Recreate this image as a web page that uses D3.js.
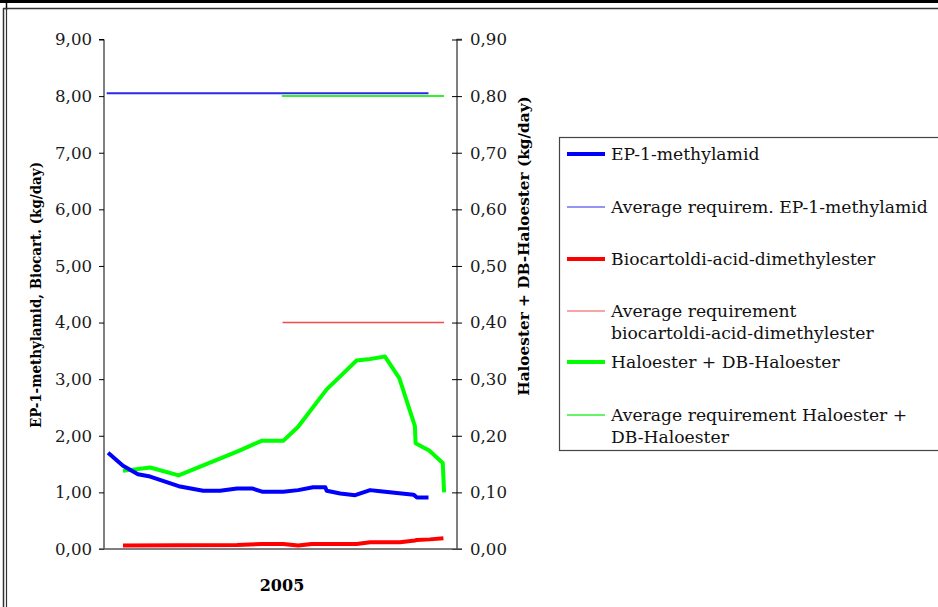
<!DOCTYPE html>
<html><head><meta charset="utf-8">
<script src="https://cdn.jsdelivr.net/npm/d3@7"></script>
<style>body{margin:0;background:#fff}svg{display:block}</style>
</head><body>
<script>
// ---- data (x = week of year 2005) ----
const categoryLabel = "2005";
const leftTicks = [0,1,2,3,4,5,6,7,8,9];
const rightTicks = [0,0.1,0.2,0.3,0.4,0.5,0.6,0.7,0.8,0.9];

const epWeeks  = [0.6,2.8,5.0,6.8,11.0,14.6,17.1,19.6,21.8,23.4,26.4,28.6,30.8,32.6,32.8,34.8,37.0,39.2,40.7,45.6,46.1,47.8];
const epValues = [1.70,1.47,1.32,1.28,1.11,1.03,1.03,1.07,1.07,1.01,1.01,1.04,1.09,1.09,1.03,0.98,0.95,1.04,1.02,0.96,0.91,0.91];

const bioWeeks  = [2.8,19.6,23.2,26.4,28.6,30.6,37.2,39.2,43.6,45.8,46.1,48.0,50.0];
const bioValues = [0.06,0.07,0.09,0.09,0.06,0.09,0.09,0.12,0.12,0.15,0.16,0.17,0.19];

const haloWeeks  = [2.8,6.8,11.0,19.6,23.2,26.4,28.6,32.8,34.8,37.2,38.9,41.4,43.5,45.8,45.9,47.9,49.9,50.1];
const haloValues = [0.138,0.144,0.130,0.172,0.191,0.191,0.216,0.282,0.305,0.333,0.335,0.340,0.302,0.217,0.187,0.174,0.152,0.100];

const avgEpWeeks = [0.4,47.8],   avgEpValues = [8.05,8.05];
const avgBioWeeks = [26.3,50.1], avgBioValues = [4.00,4.00];
const avgHaloWeeks = [26.2,50.1], avgHaloValues = [0.80,0.80];

const legendLabels = [
  ["EP-1-methylamid"],
  ["Average requirem. EP-1-methylamid"],
  ["Biocartoldi-acid-dimethylester"],
  ["Average requirement","biocartoldi-acid-dimethylester"],
  ["Haloester + DB-Haloester"],
  ["Average requirement Haloester +","DB-Haloester"]
];

// ---- drawing ----
const W = 938, H = 607;
const svg = d3.select("body").append("svg").attr("width",W).attr("height",H);
svg.append("rect").attr("width",W).attr("height",H).attr("fill","#fff");
const font = "'DejaVu Serif', serif";

// frame
svg.append("rect").attr("x",0).attr("y",0).attr("width",W).attr("height",3).attr("fill","#000");
svg.append("line").attr("x1",6.5).attr("x2",6.5).attr("y1",0).attr("y2",10).attr("stroke","#000").attr("stroke-width",1.5);
svg.append("line").attr("x1",3).attr("x2",W).attr("y1",8.5).attr("y2",8.5).attr("stroke","#333").attr("stroke-width",1.5);
svg.append("line").attr("x1",3.5).attr("x2",3.5).attr("y1",8).attr("y2",H).attr("stroke","#333").attr("stroke-width",1.5);
svg.append("line").attr("x1",6.5).attr("x2",6.5).attr("y1",8).attr("y2",H).attr("stroke","#333").attr("stroke-width",1.2);

const x0 = 104, x1 = 457, yTop = 39.5, yBot = 549;
const x = d3.scaleLinear().domain([0,52]).range([x0,x1]);
const yL = d3.scaleLinear().domain([0,9]).range([yBot,yTop]);
const yR = d3.scaleLinear().domain([0,0.9]).range([yBot,yTop]);
const fmt = d => d3.format(".2f")(d).replace(".",",");

// left axis
const gl = svg.append("g").attr("transform",`translate(${x0},0)`)
  .call(d3.axisLeft(yL).tickValues(leftTicks).tickFormat(fmt).tickSize(5).tickPadding(7));
gl.select(".domain").attr("stroke","#000").attr("d",`M-5,${yTop}H0V${yBot}`);
gl.selectAll("text").attr("font-family",font).attr("font-size",16.6).attr("fill","#1a1a1a");

// right axis
const gr = svg.append("g").attr("transform",`translate(${x1},0)`)
  .call(d3.axisRight(yR).tickValues(rightTicks).tickFormat(fmt).tickSize(5).tickPadding(8));
gr.select(".domain").attr("stroke","#555").attr("stroke-width",1.5).attr("d",`M5,${yTop}H0V${yBot}`);
gr.selectAll(".tick line").attr("x1",-5).attr("x2",5);
gr.selectAll("text").attr("font-family",font).attr("font-size",16.6).attr("fill","#1a1a1a");

// bottom axis
svg.append("line").attr("x1",x0-5).attr("x2",x1+5).attr("y1",yBot).attr("y2",yBot).attr("stroke","#555").attr("stroke-width",1.5);
svg.append("text").attr("x",282).attr("y",591).attr("text-anchor","middle")
  .attr("font-family",font).attr("font-weight","bold").attr("font-size",16).text(categoryLabel);

// axis titles
svg.append("text").attr("transform","translate(41,295) rotate(-90)").attr("text-anchor","middle")
  .attr("font-family",font).attr("font-weight","bold").attr("font-size",15.3)
  .attr("textLength",266).attr("lengthAdjust","spacingAndGlyphs")
  .text("EP-1-methylamid, Biocart. (kg/day)");
svg.append("text").attr("transform","translate(529,246) rotate(-90)").attr("text-anchor","middle")
  .attr("font-family",font).attr("font-weight","bold").attr("font-size",15.3).text("Haloester + DB-Haloester (kg/day)");

// series
function draw(ws, vs, yScale, color, width){
  const pts = ws.map((w,i)=>[w,vs[i]]);
  svg.append("path").datum(pts)
    .attr("d", d3.line().x(d=>x(d[0])).y(d=>yScale(d[1])))
    .attr("fill","none").attr("stroke",color).attr("stroke-width",width)
    .attr("stroke-linejoin","round");
}
draw(avgEpWeeks, avgEpValues, yL, "#2a2ae6", 2);
draw(avgHaloWeeks, avgHaloValues, yR, "#33f033", 2);
draw(avgBioWeeks, avgBioValues, yL, "#f04a4a", 1.5);
draw(bioWeeks, bioValues, yL, "#ff0000", 4);
draw(haloWeeks, haloValues, yR, "#00ff00", 4);
draw(epWeeks, epValues, yL, "#0000ff", 4);

// legend
const lg = svg.append("g");
lg.append("rect").attr("x",559.5).attr("y",137.5).attr("width",400).attr("height",313)
  .attr("fill","#fff").attr("stroke","#444").attr("stroke-width",1.2);
const legendStyles = [
  ["#0000ff",4],["#2a2ae6",1.2],["#ff0000",4],["#f04a4a",1.2],["#00ff00",4],["#33f033",1.5]
];
const legendY = [154, 207, 259, 311, 362, 415];
legendLabels.forEach((lines,i)=>{
  const yy = legendY[i];
  lg.append("line").attr("x1",567).attr("x2",605).attr("y1",yy).attr("y2",yy)
    .attr("stroke",legendStyles[i][0]).attr("stroke-width",legendStyles[i][1]);
  const t = lg.append("text").attr("font-family",font).attr("font-size",17.2).attr("fill","#111");
  lines.forEach((s,j)=>{
    t.append("tspan").attr("x",611).attr("y",yy+6+j*22).text(s);
  });
});
</script>
</body></html>
